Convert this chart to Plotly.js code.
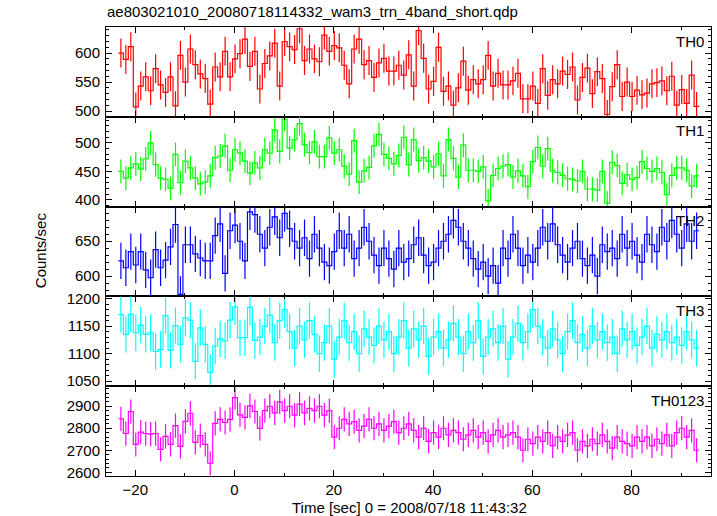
<!DOCTYPE html>
<html>
<head>
<meta charset="utf-8">
<script src="https://cdn.plot.ly/plotly-3.0.1.min.js"></script>
<style>html,body{margin:0;padding:0;background:#fff;}#chart{width:717px;height:516px;}</style>
</head>
<body>
<div id="chart"></div>
<script>
// Bin centres (s), 1-s bins
const time = [-22.9,-21.9,-20.9,-19.9,-18.9,-17.9,-16.9,-15.9,-14.9,-13.9,-12.9,-11.9,-10.9,-9.9,-8.9,-7.9,-6.9,-5.9,-4.9,-3.9,-2.9,-1.9,-0.9,0.1,1.1,2.1,3.1,4.1,5.1,6.1,7.1,8.1,9.1,10.1,11.1,12.1,13.1,14.1,15.1,16.1,17.1,18.1,19.1,20.1,21.1,22.1,23.1,24.1,25.1,26.1,27.1,28.1,29.1,30.1,31.1,32.1,33.1,34.1,35.1,36.1,37.1,38.1,39.1,40.1,41.1,42.1,43.1,44.1,45.1,46.1,47.1,48.1,49.1,50.1,51.1,52.1,53.1,54.1,55.1,56.1,57.1,58.1,59.1,60.1,61.1,62.1,63.1,64.1,65.1,66.1,67.1,68.1,69.1,70.1,71.1,72.1,73.1,74.1,75.1,76.1,77.1,78.1,79.1,80.1,81.1,82.1,83.1,84.1,85.1,86.1,87.1,88.1,89.1,90.1,91.1,92.1,93.1];
const binWidth = 1.0;

const th0 = [600,589,611,507,543,559,535,573,545,532,559,509,596,550,607,580,564,556,512,576,559,603,559,590,599,624,577,603,538,582,595,617,543,620,611,606,642,587,607,590,585,631,603,613,609,579,547,607,624,580,587,558,583,591,569,569,579,562,597,543,639,591,538,551,610,534,543,510,540,586,536,554,547,554,596,543,565,545,545,552,565,521,521,543,513,573,527,554,547,569,563,576,519,558,574,530,568,556,494,542,580,525,550,525,536,528,531,547,549,552,535,560,510,537,513,562,508];
const th1 = [450,438,456,463,454,472,500,462,438,436,420,480,430,468,456,438,428,431,442,474,477,495,452,488,482,468,447,465,456,488,482,523,485,542,491,506,534,497,483,502,476,476,509,482,488,459,445,504,431,451,457,495,515,480,473,463,478,510,462,506,469,474,468,458,481,442,506,473,440,496,452,452,450,458,398,443,455,459,462,440,451,442,423,467,492,459,490,451,448,443,437,436,433,450,419,419,417,450,394,466,460,429,444,436,439,467,455,450,455,448,409,443,456,456,452,424,442];
const th2 = [622,612,635,616,635,609,598,638,612,623,642,674,574,645,645,632,626,622,622,658,675,604,665,673,650,622,692,688,660,640,670,685,655,690,668,650,640,655,625,660,640,620,615,635,665,640,660,625,640,670,650,630,615,640,625,610,640,620,625,645,655,630,615,620,640,650,660,680,670,650,640,625,610,620,600,615,590,640,625,660,640,615,630,620,640,670,650,675,645,630,620,640,650,625,615,630,600,645,635,640,625,660,640,650,630,620,660,645,635,670,650,680,660,640,675,650,665];
const th3 = [1171,1135,1172,1138,1152,1135,1138,1104,1108,1169,1106,1151,1117,1165,1161,1086,1147,1117,1066,1114,1127,1123,1161,1185,1129,1129,1184,1124,1130,1150,1170,1120,1160,1180,1140,1110,1150,1125,1160,1135,1100,1120,1150,1090,1130,1160,1120,1140,1100,1145,1130,1115,1150,1125,1140,1100,1130,1160,1110,1145,1125,1150,1095,1130,1140,1110,1125,1155,1130,1100,1140,1120,1160,1095,1130,1145,1120,1150,1090,1130,1155,1120,1140,1180,1150,1130,1110,1145,1125,1100,1140,1160,1120,1135,1110,1150,1125,1140,1120,1130,1100,1145,1125,1140,1115,1130,1150,1110,1135,1125,1140,1120,1130,1115,1140,1125,1110];
const th0123 = [2843,2776,2876,2727,2782,2776,2773,2776,2704,2763,2727,2812,2718,2831,2868,2736,2767,2727,2641,2822,2840,2826,2840,2939,2861,2849,2902,2876,2799,2880,2900,2870,2920,2880,2900,2860,2910,2870,2890,2880,2900,2860,2880,2760,2800,2840,2820,2830,2790,2810,2840,2800,2820,2790,2810,2830,2780,2800,2820,2790,2760,2800,2740,2780,2760,2800,2770,2790,2780,2750,2770,2790,2760,2780,2740,2770,2790,2760,2770,2780,2760,2700,2750,2730,2760,2740,2780,2720,2760,2740,2770,2780,2700,2740,2720,2750,2730,2770,2740,2710,2760,2740,2730,2720,2760,2740,2760,2720,2750,2730,2770,2720,2780,2800,2760,2790,2700];

const bandNames = ["TH0","TH1","TH2","TH3","TH0123"];
const bandErrors = [25, 21, 26, 33, 55];
const colors = ["#ff0000","#00ff00","#0000ff","#00ffff","#ff00ff"];

const series = [th0, th1, th2, th3, th0123];
const edges = time.map(t => t - binWidth/2).concat([time[time.length-1] + binWidth/2]);

const traces = [];
series.forEach((vals, k) => {
  const xa = k === 0 ? 'x' : 'x' + (k+1);
  const ya = k === 0 ? 'y' : 'y' + (k+1);
  traces.push({
    x: edges, y: vals.concat([vals[vals.length-1]]),
    xaxis: xa, yaxis: ya, type: 'scatter', mode: 'lines',
    line: {shape: 'hv', color: colors[k], width: 1.2},
    hoverinfo: 'skip', showlegend: false
  });
  traces.push({
    x: time, y: vals, xaxis: xa, yaxis: ya, type: 'scatter', mode: 'markers',
    marker: {size: 1, color: 'rgba(0,0,0,0)'},
    error_y: {type: 'constant', value: bandErrors[k], color: colors[k], thickness: 1.2, width: 0, opacity: 0.7},
    hoverinfo: 'skip', showlegend: false
  });
});

const font = {family: 'Liberation Sans, Arial, Helvetica, sans-serif', size: 15, color: '#000'};
const domains = [[0.8,1],[0.6,0.8],[0.4,0.6],[0.2,0.4],[0,0.2]];
const yRanges = [[490,645],[388,546],[571,699.6],[1041,1204],[2583,2991]];
const yDticks = [50,50,50,50,100];
const yMinor = [10,10,10,10,20];

const layout = {
  width: 717, height: 516,
  margin: {l: 106, r: 6, t: 27, b: 40},
  paper_bgcolor: '#fff', plot_bgcolor: '#fff',
  font: font,
  showlegend: false,
  title: {text: 'ae803021010_20080718114332_wam3_trn_4band_short.qdp', x: 107/717, xanchor: 'left', xref: 'container', y: 1 - 12/516, yanchor: 'middle', yref: 'container', font: font},
  annotations: [],
};

for (let k = 0; k < 5; k++) {
  const xk = k === 0 ? 'xaxis' : 'xaxis' + (k+1);
  const yk = k === 0 ? 'yaxis' : 'yaxis' + (k+1);
  const yName = k === 0 ? 'y' : 'y' + (k+1);
  const xName = k === 0 ? 'x' : 'x' + (k+1);
  layout[xk] = {
    domain: [0,1], anchor: yName, range: [-25.9, 96],
    showline: true, linecolor: '#000', linewidth: 1, mirror: 'ticks',
    ticks: 'inside', ticklen: 6, tickcolor: '#000', tickwidth: 1,
    dtick: 20, tick0: 0, showgrid: false, zeroline: false,
    minor: {dtick: 10, ticklen: 3, ticks: 'inside', tickcolor: '#000', showgrid: false},
    showticklabels: k === 4, tickfont: font, fixedrange: true
  };
  if (k > 0) layout[xk].matches = 'x';
  layout[yk] = {
    domain: domains[k], anchor: xName, range: yRanges[k],
    showline: true, linecolor: '#000', linewidth: 1, mirror: 'ticks',
    ticks: 'inside', ticklen: 6, tickcolor: '#000', tickwidth: 1,
    dtick: yDticks[k], tick0: 0, showgrid: false, zeroline: false,
    minor: {dtick: yMinor[k], ticklen: 3, ticks: 'inside', tickcolor: '#000', showgrid: false},
    tickfont: font, fixedrange: true, ticklabelstandoff: 2
  };
  layout.annotations.push({
    text: bandNames[k], xref: 'paper', yref: 'paper',
    x: 0.992, y: domains[k][1] - 0.008, xanchor: 'right', yanchor: 'top',
    showarrow: false, font: font
  });
}
layout.annotations.push({
  text: 'Counts/sec', xref: 'paper', yref: 'paper', x: (40-106)/605, y: 0.503,
  xanchor: 'center', yanchor: 'middle', textangle: -90, showarrow: false, font: font
});
layout.annotations.push({
  text: 'Time [sec] 0 = 2008/07/18 11:43:32', xref: 'paper', yref: 'paper',
  x: 0.502, y: -(507-476)/449, xanchor: 'center', yanchor: 'middle', showarrow: false, font: font
});

Plotly.newPlot('chart', traces, layout, {staticPlot: true, displayModeBar: false});
</script>
</body>
</html>
